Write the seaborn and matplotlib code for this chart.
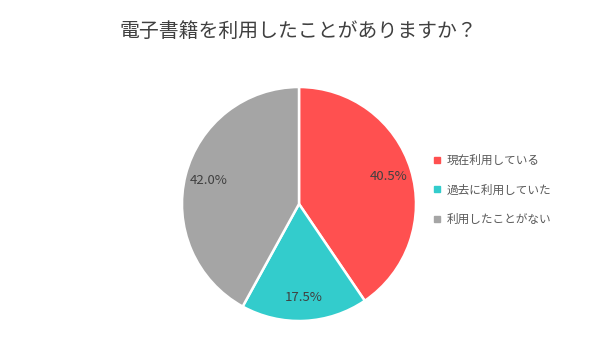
import seaborn as sns
import matplotlib.pyplot as plt
from matplotlib.lines import Line2D

# data
categories = ['現在利用している', '過去に利用していた', '利用したことがない']
shares = [40.5, 17.5, 42.0]
colors = ['#FF5050', '#33CCCC', '#A5A5A5']

sns.set_theme(style='white')
plt.rcParams['font.family'] = ['Noto Sans CJK JP', 'DejaVu Sans']
palette = sns.color_palette(colors)

fig = plt.figure(figsize=(6, 3.6), dpi=100)
ax = fig.add_axes([182 / 600, 39 / 360, 234 / 600, 234 / 360])

wedges, _, autotexts = ax.pie(
    shares,
    colors=palette,
    startangle=90,
    counterclock=False,
    autopct='%.1f%%',
    pctdistance=0.8,
    radius=1.0,
    wedgeprops={'edgecolor': 'white', 'linewidth': 1.8},
    textprops={'fontsize': 9.5, 'color': '#404040'},
)
ax.set_xlim(-1, 1)
ax.set_ylim(-1, 1)
ax.set_aspect('equal')

fig.text(0.497, 1 - 31 / 360, '電子書籍を利用したことがありますか？', ha='center', va='center',
         fontsize=14.3, color='#404040')

handles = [Line2D([0], [0], marker='s', linestyle='', markersize=5,
                  markerfacecolor=c, markeredgecolor=c) for c in palette]
fig.legend(handles, categories, loc='center left', bbox_to_anchor=(428 / 600, 1 - 190 / 360),
           frameon=False, fontsize=8.4, labelcolor='#595959', handlelength=0.6,
           handletextpad=0.5, labelspacing=1.4, borderpad=0)

fig.savefig('out.png', dpi=100)
plt.close(fig)
